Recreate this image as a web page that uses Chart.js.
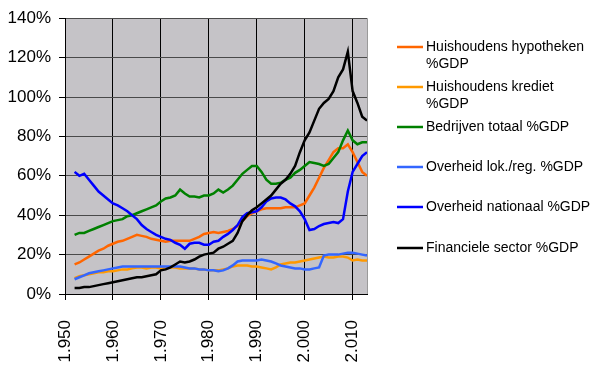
<!DOCTYPE html>
<html>
<head>
<meta charset="utf-8">
<script src="https://cdn.jsdelivr.net/npm/chart.js@4.4.1/dist/chart.umd.min.js"></script>
<style>
  html, body { margin: 0; padding: 0; background: #fff; }
  #wrap { width: 600px; height: 369px; position: relative; }
</style>
</head>
<body>
<div id="wrap"><canvas id="chart"></canvas></div>
<script>
// ---- Data (annual) ----
const firstYear = 1952;
const seriesNames = [
    ['Huishoudens hypotheken', '%GDP'],
    ['Huishoudens krediet', '%GDP'],
    ['Bedrijven totaal %GDP'],
    ['Overheid lok./reg. %GDP'],
    ['Overheid nationaal %GDP'],
    ['Financiele sector %GDP']
];
const seriesColors = ['#ff6600', '#ff9900', '#008000', '#3366ff', '#0000ff', '#000000'];

const hypotheken = [15, 16, 17.5, 19, 20.5, 22, 23, 24.5, 25.5, 26.5, 27, 28, 29, 30, 29.5, 29, 28, 27.5, 27, 26.5,
    27, 27, 27, 27, 27, 28, 29, 30.5, 31, 31.5, 31, 31.5, 32, 33, 34.5, 37, 39.5, 41, 42, 43,
    43.5, 43.5, 43.5, 43.5, 44, 44, 44, 45, 46, 50, 54, 59, 64, 68, 72, 74, 74, 76, 72, 67,
    62, 60];
const krediet = [8, 9, 9.5, 10, 10.5, 11, 11, 11.5, 11.5, 12, 12.5, 12.5, 13, 13.5, 13.5, 13, 13.5, 13.5, 13, 13,
    13.5, 13.5, 13, 13, 13, 13, 12.5, 12.5, 12, 12, 12, 12.5, 13, 14, 14.5, 14.5, 14.5, 14, 14, 13.5,
    13, 12.5, 13.5, 15, 15.5, 16, 16, 16.5, 17, 17.5, 18, 18.5, 19, 18.5, 18.5, 19, 19, 18.5, 17, 17.5,
    17, 17];
const bedrijven = [30, 31, 31, 32, 33, 34, 35, 36, 37, 37.5, 38, 39.5, 40, 41, 42, 43, 44, 45, 47, 48.5,
    49, 50, 53, 51, 49.5, 49.5, 49, 50, 50, 51, 53, 51.5, 53, 55, 58, 61, 63, 65, 65, 62,
    58, 56, 56, 56.5, 58, 59, 61.5, 63, 65, 67, 66.5, 66, 65, 66, 69, 72, 78, 83, 78, 76,
    77, 77];
const overheidLok = [7.5, 8.5, 9.5, 10.5, 11, 11.5, 12, 12.5, 13, 13.5, 14, 14, 14, 14, 14, 14, 14, 14, 14, 14,
    14, 14, 14, 13.5, 13, 13, 12.5, 12.5, 12, 12, 11.5, 12, 13, 14.5, 16.5, 17, 17, 17, 17, 17.5,
    17, 16.5, 15.5, 14.5, 14, 13.5, 13, 13, 12.5, 12.5, 13, 13.5, 19.5, 20, 20, 20, 20.5, 21, 21, 20.5,
    20, 19.5];
const overheidNat = [62, 60, 61, 58, 55, 52, 50, 48, 46, 45, 43.5, 42, 40, 38, 35, 33, 31.5, 30, 29, 28,
    27.5, 26, 25, 23, 25.5, 26, 26, 25, 25, 26.5, 27, 29, 30.5, 32.5, 35, 39, 41, 41.5, 42, 44,
    47, 48.5, 49, 49, 48, 46, 44.5, 42, 38, 32.5, 33, 34.5, 35.5, 36, 36.5, 36, 38, 52, 62, 66,
    70, 72];
const financieel = [3, 3, 3.5, 3.5, 4, 4.5, 5, 5.5, 6, 6.5, 7, 7.5, 8, 8.5, 8.5, 9, 9.5, 10, 12, 12.5,
    13.5, 15, 16.5, 16, 16.5, 17.5, 19, 20, 20.5, 21, 23, 24, 25.5, 27, 31, 37, 40, 42.5, 44, 46,
    48, 50, 53, 56, 58, 61, 65, 72, 78, 82, 88, 94, 97, 99, 103, 110, 114, 123, 103, 97,
    90, 88];

const yTicks = [0, 20, 40, 60, 80, 100, 120, 140];

// ---- Build datasets ----
const allValues = [hypotheken, krediet, bedrijven, overheidLok, overheidNat, financieel];
const toPoints = arr => arr.map((v, i) => ({ x: firstYear + i, y: v }));

const datasets = allValues.map((arr, i) => ({
    label: seriesNames[i].join(' '),
    data: toPoints(arr),
    borderColor: seriesColors[i],
    backgroundColor: seriesColors[i],
    borderWidth: 2.5,
    pointRadius: 0,
    tension: 0,
    order: allValues.length - i
}));

const fontFamily = "Arial, 'Liberation Sans', sans-serif";

// plot background + right border
const plotBackground = {
    id: 'plotBackground',
    beforeDraw(chart) {
        const { ctx, chartArea: a } = chart;
        ctx.save();
        ctx.fillStyle = '#c5c3c7';
        ctx.fillRect(a.left, a.top, a.right - a.left, a.bottom - a.top);
        ctx.restore();
    },
    afterDatasetsDraw(chart) {
        const { ctx, chartArea: a } = chart;
        ctx.save();
        ctx.strokeStyle = '#9a9a9a';
        ctx.lineWidth = 1;
        ctx.beginPath();
        ctx.moveTo(Math.round(a.right) + 0.5, a.top);
        ctx.lineTo(Math.round(a.right) + 0.5, a.bottom);
        ctx.stroke();
        ctx.restore();
    }
};

// legend on the right, two-line labels like the original
const sideLegend = {
    id: 'sideLegend',
    afterDraw(chart) {
        const { ctx } = chart;
        const rowY = [47, 87, 127, 167, 207, 248];
        ctx.save();
        ctx.font = '14px ' + fontFamily;
        ctx.textBaseline = 'middle';
        ctx.fillStyle = '#000';
        seriesNames.forEach((lines, i) => {
            const y = rowY[i];
            ctx.strokeStyle = seriesColors[i];
            ctx.lineWidth = 2.5;
            ctx.beginPath();
            ctx.moveTo(397, y);
            ctx.lineTo(423, y);
            ctx.stroke();
            lines.forEach((t, j) => ctx.fillText(t, 426, y + j * 17));
        });
        ctx.restore();
    }
};

const fmtYear = v => Math.floor(v / 1000) + '.' + String(v % 1000).padStart(3, '0');

new Chart(document.getElementById('chart'), {
    type: 'line',
    data: { datasets },
    options: {
        responsive: true,
        maintainAspectRatio: false,
        animation: false,
        events: [],
        layout: { padding: { top: 16, right: 233, left: 0, bottom: 0 } },
        plugins: {
            legend: { display: false },
            tooltip: { enabled: false }
        },
        scales: {
            x: {
                type: 'linear',
                min: 1950,
                max: 2013,
                afterFit: s => { s.height = 75; },
                border: { color: '#000', width: 1 },
                grid: { color: '#000', lineWidth: 1, tickLength: 6, drawTicks: true },
                ticks: {
                    stepSize: 10,
                    includeBounds: false,
                    maxRotation: 90,
                    minRotation: 90,
                    padding: 20,
                    color: '#000',
                    font: { family: fontFamily, size: 17 },
                    callback: v => fmtYear(v)
                }
            },
            y: {
                min: 0,
                max: 140,
                afterFit: s => { s.width = 65; },
                afterBuildTicks: s => { s.ticks = yTicks.map(v => ({ value: v })); },
                border: { color: '#000', width: 1 },
                grid: { color: '#4a4a4a', lineWidth: 1, tickLength: 6, tickColor: '#000' },
                ticks: {
                    padding: 8,
                    color: '#000',
                    font: { family: fontFamily, size: 17 },
                    callback: v => v + '%'
                }
            }
        }
    },
    plugins: [plotBackground, sideLegend]
});
</script>
</body>
</html>
